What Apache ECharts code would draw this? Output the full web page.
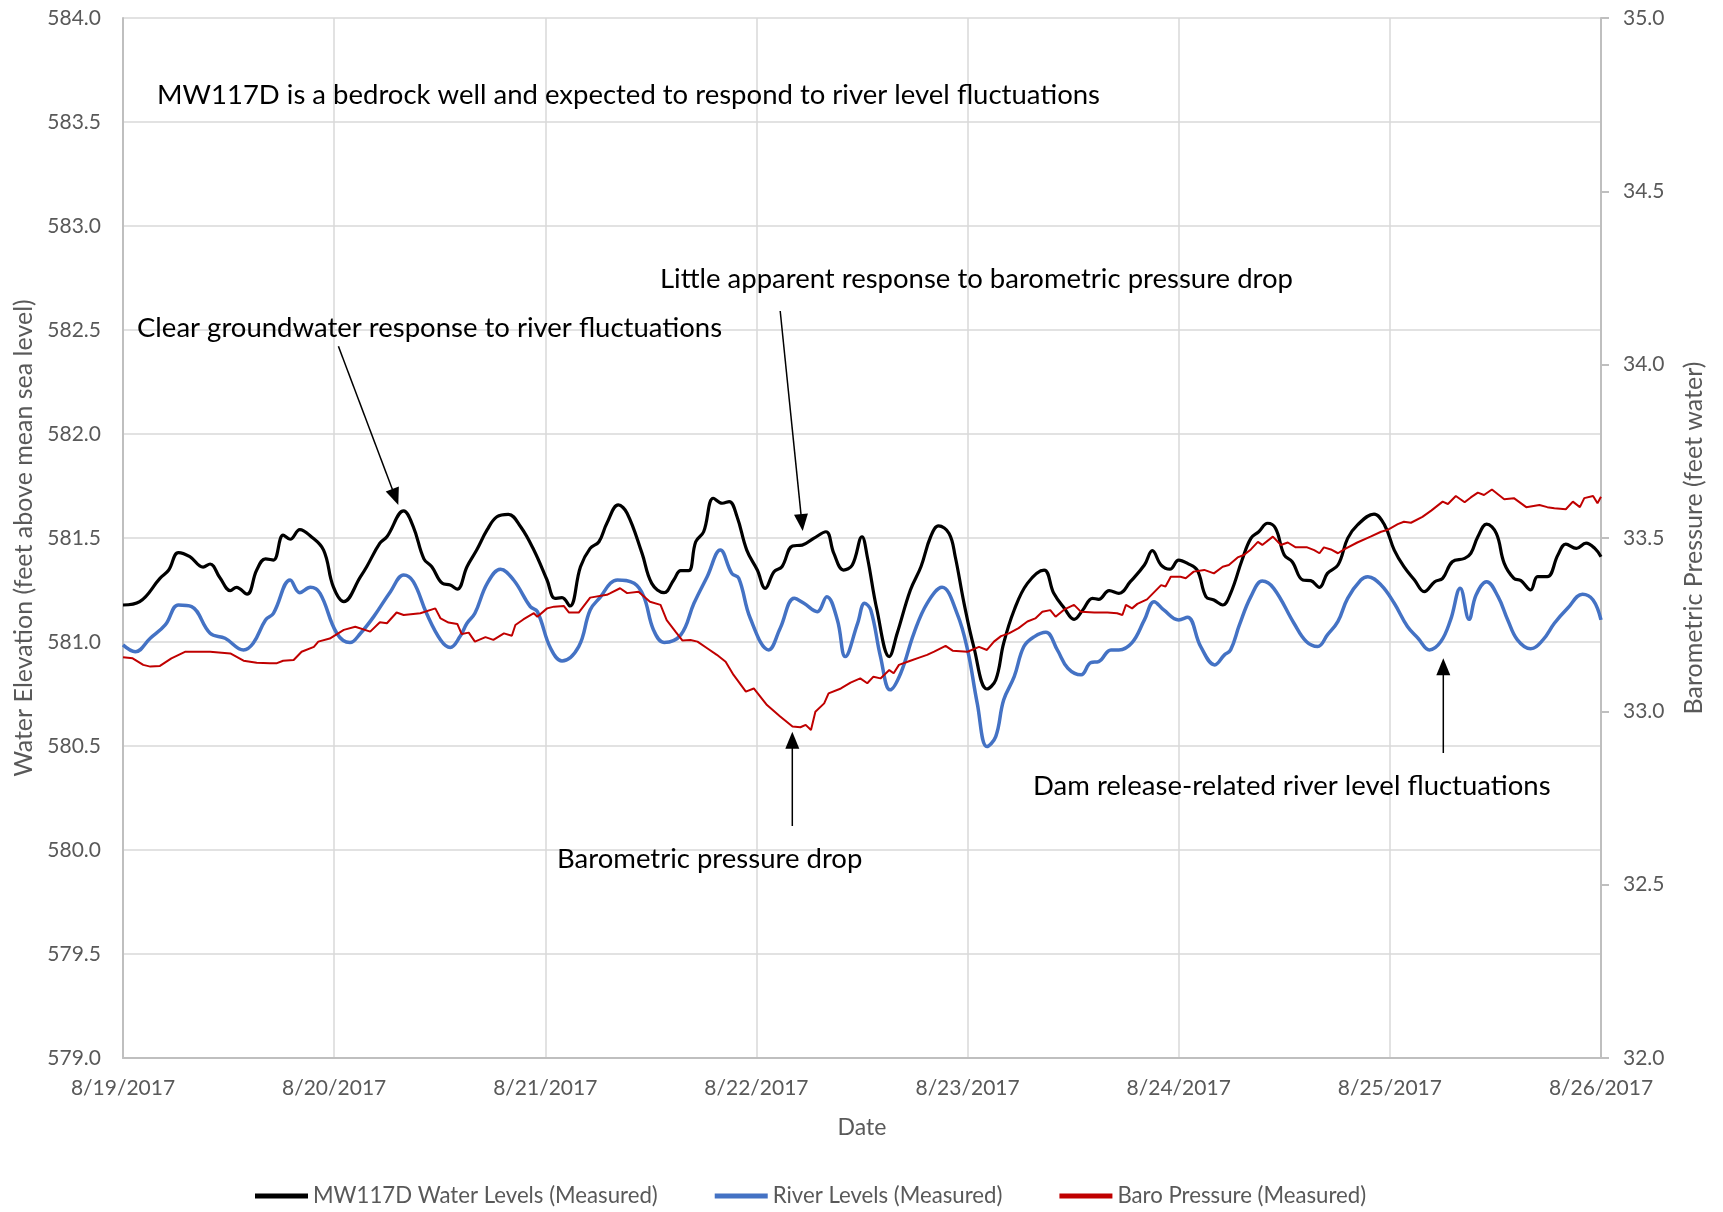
<!DOCTYPE html>
<html>
<head>
<meta charset="utf-8">
<script src="https://cdn.jsdelivr.net/npm/echarts@6/dist/echarts.min.js"></script>
<style>html,body{margin:0;padding:0;background:#fff;}#chart{width:1723px;height:1212px;}</style>
</head>
<body>
<div id="chart"></div>
<script>
// Tick labels for the date axis (one per day, hours from 8/19/2017 00:00)
const dateLabels = ['8/19/2017','8/20/2017','8/21/2017','8/22/2017','8/23/2017','8/24/2017','8/25/2017','8/26/2017'];

// MW117D water levels (hours since start, feet above MSL)
const mwHours = [0,1.9,4.2,5.2,6.3,7.6,9.1,9.9,11.0,12.2,12.9,14.1,15.2,16.2,17.1,18.2,19.0,20.1,21.3,22.8,23.9,25.1,27.0,27.7,29.2,30.0,31.9,33.0,34.2,35.1,36.3,37.2,38.0,39.1,40.2,41.4,42.5,43.8,45.2,46.7,48.2,49.1,49.9,50.8,52.0,53.1,54.1,55.0,56.3,57.3,59.0,60.1,61.5,62.6,63.4,64.3,65.1,66.0,67.1,68.1,68.9,69.8,70.9,72.1,73.0,74.0,74.9,76.1,77.2,78.5,79.9,80.8,81.9,82.9,84.0,84.6,85.7,87.1,88.0,89.5,90.7,91.8,92.7,93.9,94.6,95.6,96.7,98.2,99.2,100.1,101.3,102.8,104.7,105.8,107.0,108.1,109.1,110.2,110.9,112.1,113.2,114.5,116.1,117.0,118.0,119.0,120.0,121.0,122.1,123.1,124.0,125.0,125.9,127.2,128.2,129.1,130.1,131.0,132.0,132.9,134.1,135.0,136.0,136.9,138.1,139.2,140.3,142.2,143.4,144.5,145.6,146.8,147.9,149.1,150.0,151.1,152.5,153.2,154.0,155.0,156.1,157.0,158.1,158.9,160.0,160.8,161.9,163.1,164.0,165.2,166.3,167.3,168];
const mwLevels = [581.178,581.194,581.306,581.346,581.43,581.41,581.36,581.375,581.31,581.247,581.263,581.23,581.346,581.40,581.394,581.514,581.494,581.54,581.51,581.442,581.266,581.194,581.314,581.362,581.475,581.506,581.63,581.554,581.40,581.362,581.282,581.274,581.254,581.362,581.442,581.54,581.602,581.614,581.554,581.442,581.298,581.21,581.213,581.173,581.362,581.45,581.482,581.571,581.659,581.619,581.426,581.282,581.237,581.298,581.343,581.343,581.482,581.53,581.691,581.667,581.675,581.602,581.442,581.346,581.258,581.338,581.362,581.462,581.466,581.498,581.53,581.426,581.346,581.37,581.506,581.41,581.154,580.93,581.042,581.25,581.362,581.506,581.558,581.522,581.41,581.186,580.978,580.774,580.817,580.994,581.154,581.282,581.346,581.234,581.162,581.109,581.154,581.21,581.205,581.247,581.234,581.29,581.37,581.439,581.37,581.35,581.394,581.378,581.346,581.218,581.202,581.178,581.234,581.394,581.498,581.53,581.571,581.547,581.418,581.386,581.298,581.295,581.263,581.33,581.37,581.498,581.562,581.615,581.562,581.442,581.362,581.298,581.242,581.29,581.306,581.386,581.402,581.426,581.506,581.567,581.522,581.378,581.306,581.295,581.25,581.314,581.314,581.418,581.471,581.45,581.475,581.45,581.41];

// River levels (hours since start, feet above MSL)
const riverHours = [0,1.4,3.1,4.8,6.3,7.8,9.9,11.6,13.7,14.8,16.2,17.1,19.0,20.1,21.3,22.4,24.3,25.8,27.0,28.5,30.4,31.9,33.0,34.5,36.1,37.2,38.3,39.1,40.0,41.4,42.9,44.4,46.3,47.1,48.6,49.9,51.8,53.1,54.3,55.4,56.2,58.1,59.2,60.3,61.5,63.4,64.9,66.4,67.9,69.2,70.0,71.3,73.4,74.7,76.3,77.4,78.9,80.0,81.2,82.1,83.5,84.3,85.0,86.1,87.2,88.4,89.9,91.4,93.1,94.8,96.0,97.1,98.2,99.2,100.1,101.3,102.4,103.6,104.9,106.2,107.4,108.9,110.0,110.9,112.3,113.2,114.7,116.1,117.2,118.3,120.0,121.0,122.5,124.1,125.2,125.9,126.9,128.2,129.5,130.8,133.1,134.5,135.8,136.9,138.1,139.2,140.7,141.5,143.0,144.5,146.0,147.2,148.5,149.8,150.9,152.0,153.0,153.8,155.0,156.3,157.4,158.5,160.0,161.4,162.7,164.2,165.9,167.1,168];
const riverLevels = [580.986,580.953,581.018,581.082,581.178,581.17,581.042,581.018,580.962,580.994,581.106,581.138,581.298,581.237,581.263,581.234,581.042,580.997,581.042,581.122,581.242,581.322,581.29,581.138,581.01,580.974,581.026,581.09,581.138,581.282,581.35,581.298,581.17,581.146,580.97,580.909,580.978,581.154,581.218,581.282,581.298,581.282,581.218,581.058,580.998,581.034,581.186,581.314,581.442,581.33,581.306,581.114,580.962,581.066,581.21,581.186,581.146,581.218,581.106,580.93,581.09,581.186,581.154,580.93,580.77,580.85,581.042,581.186,581.263,581.138,580.962,580.705,580.497,580.545,580.721,580.833,580.978,581.026,581.047,580.962,580.874,580.842,580.901,580.906,580.962,580.962,580.997,581.106,581.194,581.154,581.106,581.119,580.978,580.89,580.938,580.962,581.082,581.218,581.293,581.258,581.09,581.002,580.978,581.034,581.099,581.21,581.298,581.314,581.274,581.186,581.074,581.018,580.962,581.002,581.106,581.258,581.109,581.226,581.29,581.218,581.106,581.01,580.967,581.01,581.09,581.162,581.23,581.202,581.106];

// Barometric pressure (hours since start, feet water)
const baroHours = [0,1.1,2.3,3.1,4.2,5.5,7.1,8.4,9.9,12.2,13.7,15.2,16.7,17.5,18.2,19.4,20.3,21.7,22.2,23.5,25.1,26.4,28.1,29.2,30.0,31.1,31.9,33.8,35.5,36.1,37.0,38.0,38.5,39.3,40.0,41.2,42.1,43.3,44.2,44.6,45.5,46.7,47.1,48.2,49.0,50.1,50.7,51.8,53.1,55.0,55.4,56.5,57.3,58.6,59.9,61.1,61.8,62.8,63.6,64.5,65.3,66.4,67.5,68.5,69.4,70.8,71.7,73.2,74.7,76.1,77.0,77.6,78.2,78.7,79.7,80.2,81.6,82.7,83.8,84.6,85.3,86.1,87.1,87.6,88.2,89.5,90.5,91.4,92.2,93.5,94.3,96.0,97.3,98.2,99.0,99.8,100.7,101.8,102.8,103.7,104.5,105.4,106.0,107.0,108.1,108.9,110.4,111.9,113.0,113.6,114.0,114.7,115.3,116.4,118.0,118.5,119.1,120.2,120.8,121.7,122.9,124.0,125.0,125.7,126.7,127.4,128.2,129.0,129.5,130.7,131.6,132.4,133.3,134.6,135.4,136.0,136.5,137.3,138.1,138.8,140.3,141.8,143.0,143.7,144.9,145.6,146.4,147.7,148.7,150.0,150.6,151.5,152.5,153.2,154.0,154.7,155.6,157.0,158.1,159.5,161.0,161.9,162.7,164.0,164.8,165.6,166.1,167.1,167.6,168];
const baroValues = [33.156,33.153,33.134,33.129,33.131,33.153,33.172,33.172,33.172,33.167,33.146,33.140,33.139,33.139,33.146,33.148,33.172,33.186,33.201,33.21,33.235,33.244,33.23,33.257,33.254,33.285,33.278,33.283,33.297,33.268,33.256,33.252,33.223,33.227,33.201,33.214,33.206,33.225,33.218,33.249,33.265,33.283,33.273,33.297,33.302,33.304,33.285,33.285,33.328,33.336,33.341,33.355,33.341,33.345,33.316,33.307,33.263,33.230,33.204,33.206,33.201,33.182,33.163,33.143,33.105,33.057,33.066,33.018,32.985,32.956,32.954,32.961,32.946,32.999,33.023,33.052,33.066,33.083,33.095,33.081,33.100,33.095,33.119,33.110,33.134,33.146,33.155,33.163,33.172,33.189,33.175,33.172,33.186,33.177,33.201,33.217,33.225,33.240,33.259,33.268,33.287,33.292,33.273,33.294,33.307,33.287,33.285,33.285,33.283,33.278,33.307,33.297,33.31,33.323,33.364,33.360,33.388,33.388,33.384,33.403,33.408,33.398,33.417,33.422,33.444,33.451,33.467,33.489,33.480,33.504,33.480,33.487,33.473,33.473,33.465,33.456,33.473,33.467,33.456,33.467,33.487,33.504,33.518,33.523,33.540,33.547,33.544,33.561,33.579,33.605,33.598,33.621,33.603,33.617,33.631,33.624,33.640,33.612,33.615,33.589,33.595,33.589,33.586,33.583,33.605,33.589,33.615,33.621,33.600,33.619];

const seriesNames = ['MW117D Water Levels (Measured)','River Levels (Measured)','Baro Pressure (Measured)'];
const annotations = [
  {text:'MW117D is a bedrock well and expected to respond to river level fluctuations', x:157, y:95},
  {text:'Little apparent response to barometric pressure drop', x:660, y:279},
  {text:'Clear groundwater response to river fluctuations', x:137, y:328},
  {text:'Barometric pressure drop', x:557, y:859},
  {text:'Dam release-related river level fluctuations', x:1033, y:786}
];
const arrows = [
  {from:[338.4,346.2], to:[398.3,505]},
  {from:[780.2,311], to:[802.7,531]},
  {from:[792.3,826], to:[792.3,731.7]},
  {from:[1443.3,753], to:[1443.3,658.3]}
];

function zip(a,b){return a.map((v,i)=>[v,b[i]]);}

const FONT = 'Lato';
const graphics = [];
annotations.forEach(a=>{
  graphics.push({type:'text', z:100, style:{x:a.x, y:a.y, text:a.text, fill:'#000', font:'27.5px '+FONT, verticalAlign:'middle', align:'left'}});
});
arrows.forEach(a=>{
  const dx=a.to[0]-a.from[0], dy=a.to[1]-a.from[1];
  const len=Math.sqrt(dx*dx+dy*dy), ux=dx/len, uy=dy/len;
  const hl=17, hw=7;
  const bx=a.to[0]-ux*hl, by=a.to[1]-uy*hl;
  graphics.push({type:'line', z:100, shape:{x1:a.from[0],y1:a.from[1],x2:bx+ux*2,y2:by+uy*2}, style:{stroke:'#000', lineWidth:1.5}});
  graphics.push({type:'polygon', z:100, shape:{points:[[a.to[0],a.to[1]],[bx-uy*hw,by+ux*hw],[bx+uy*hw,by-ux*hw]]}, style:{fill:'#000'}});
});

const chart = echarts.init(document.getElementById('chart'));
chart.setOption({
  animation:false,
  backgroundColor:'#fff',
  grid:{left:123, right:122, top:18, bottom:154},
  legend:{
    left:250, top:1180, icon:'rect', itemWidth:53, itemHeight:5, itemGap:57,
    textStyle:{fontFamily:FONT, fontSize:22.2, color:'#595959'},
    data:seriesNames
  },
  xAxis:{
    type:'value', min:0, max:168, interval:24,
    name:'Date', nameLocation:'middle', nameGap:58,
    nameTextStyle:{fontFamily:FONT, fontSize:23, color:'#595959'},
    axisLine:{lineStyle:{color:'#BFBFBF', width:2}},
    axisTick:{show:false},
    axisLabel:{margin:20, fontFamily:FONT, fontSize:21, color:'#595959', formatter:v=>dateLabels[Math.round(v/24)]},
    splitLine:{show:true, lineStyle:{color:'#D9D9D9', width:1.5}}
  },
  yAxis:[{
    type:'value', min:579, max:584, interval:0.5, position:'left',
    name:'Water Elevation (feet above mean sea level)', nameLocation:'middle', nameGap:86, nameRotate:90,
    nameTextStyle:{fontFamily:FONT, fontSize:25, color:'#595959'},
    axisLine:{show:true, lineStyle:{color:'#BFBFBF', width:2}},
    axisTick:{show:false},
    axisLabel:{margin:22, fontFamily:FONT, fontSize:21, color:'#595959', formatter:v=>v.toFixed(1)},
    splitLine:{show:true, lineStyle:{color:'#D9D9D9', width:1.5}}
  },{
    type:'value', min:32, max:35, interval:0.5, position:'right',
    name:'Barometric Pressure (feet water)', nameLocation:'middle', nameGap:80, nameRotate:90,
    nameTextStyle:{fontFamily:FONT, fontSize:25, color:'#595959'},
    axisLine:{show:true, lineStyle:{color:'#BFBFBF', width:2}},
    axisTick:{show:true, length:8, lineStyle:{color:'#BFBFBF', width:2}},
    axisLabel:{margin:22, fontFamily:FONT, fontSize:21, color:'#595959', formatter:v=>v.toFixed(1)},
    splitLine:{show:false}
  }],
  series:[{
    name:seriesNames[0], type:'line', yAxisIndex:0, data:zip(mwHours,mwLevels),
    showSymbol:false, smooth:0.4, color:'#000000', lineStyle:{color:'#000000', width:3.2}
  },{
    name:seriesNames[1], type:'line', yAxisIndex:0, data:zip(riverHours,riverLevels),
    showSymbol:false, smooth:0.4, color:'#4472C4', lineStyle:{color:'#4472C4', width:3.5}
  },{
    name:seriesNames[2], type:'line', yAxisIndex:1, data:zip(baroHours,baroValues),
    showSymbol:false, color:'#C00000', lineStyle:{color:'#C00000', width:2}
  }],
  graphic:graphics
});
</script>
</body>
</html>
